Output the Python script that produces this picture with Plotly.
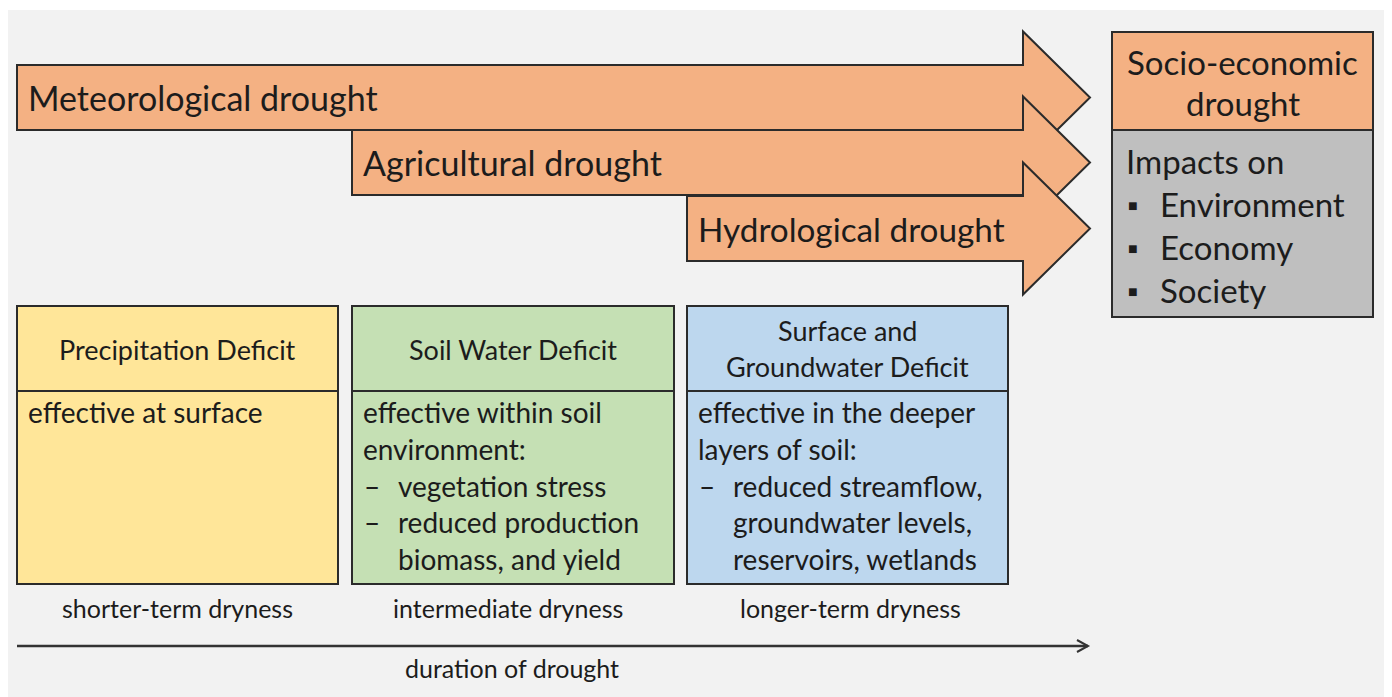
import plotly.graph_objects as go

W, H = 1392, 697
PAGE_MARGIN = 8  # default body margin of the written page
FONT = "Lato"
INK = "#1c1c1c"
EDGE = "#2b2b2b"

# ---- content ----
drought_types = ["Meteorological drought", "Agricultural drought", "Hydrological drought"]
arrow_left = [17, 352, 687]
arrow_body_top = [65, 130, 196]
arrow_body_h = 65
head_x0, head_tip = 1023, 1090
head_half = 66

socio_title = ["Socio-economic", "drought"]
impacts_title = "Impacts on"
impacts = ["Environment", "Economy", "Society"]

box_titles = [["Precipitation Deficit"], ["Soil Water Deficit"], ["Surface and", "Groundwater Deficit"]]
box_bodies = [
    [("", "effective at surface")],
    [("", "effective within soil"), ("", "environment:"), ("–", "vegetation stress"),
     ("–", "reduced production"), (" ", "biomass, and yield")],
    [("", "effective in the deeper"), ("", "layers of soil:"), ("–", "reduced streamflow,"),
     (" ", "groundwater levels,"), (" ", "reservoirs, wetlands")],
]
box_fill = ["#ffe699", "#c5e0b4", "#bdd7ee"]
box_x = [(17, 338), (352, 674), (687, 1008)]
box_top, box_div, box_bot = 306, 391, 584
dryness = ["shorter-term dryness", "intermediate dryness", "longer-term dryness"]
dryness_x = [177, 508, 850]
axis_label = "duration of drought"

fig = go.Figure()
fig.add_trace(go.Scatter(x=[PAGE_MARGIN, W], y=[PAGE_MARGIN, H], mode="markers",
                         marker=dict(opacity=0), hoverinfo="skip", showlegend=False))

shapes = []
annotations = []

def ann(x, y, text, size, anchor="left", color=INK):
    annotations.append(dict(x=x, y=y, xref="x", yref="y", text=text, showarrow=False,
                            xanchor=anchor, yanchor="middle",
                            font=dict(family=FONT, size=size, color=color)))

# thin white strip at top like the reference
shapes.append(dict(type="rect", x0=0, x1=W + 20, y0=0, y1=10, xref="x", yref="y",
                   fillcolor="#ffffff", line=dict(width=0), layer="below"))

# big arrows
for i, name in enumerate(drought_types):
    t = arrow_body_top[i]
    b = t + arrow_body_h
    c = (t + b) / 2
    l = arrow_left[i]
    path = (f"M {l} {t} L {head_x0} {t} L {head_x0} {c - head_half} L {head_tip} {c} "
            f"L {head_x0} {c + head_half} L {head_x0} {b} L {l} {b} Z")
    shapes.append(dict(type="path", path=path, xref="x", yref="y", fillcolor="#f4b183",
                       line=dict(color=EDGE, width=2)))
    ann(l + 9, c, name, 34 if i < 2 else 33.3)

# socio-economic box
sx0, sx1, st, sd, sb = 1112, 1373, 32, 130, 317
shapes.append(dict(type="rect", x0=sx0, x1=sx1, y0=st, y1=sd, xref="x", yref="y",
                   fillcolor="#f4b183", line=dict(color=EDGE, width=2)))
shapes.append(dict(type="rect", x0=sx0, x1=sx1, y0=sd, y1=sb, xref="x", yref="y",
                   fillcolor="#bfbfbf", line=dict(color=EDGE, width=2)))
ann((sx0 + sx1) / 2, 62, socio_title[0], 33, "center")
ann((sx0 + sx1) / 2, 103, socio_title[1], 33, "center")
ann(1124, 161, impacts_title, 33)
for j, item in enumerate(impacts):
    y = 204 + j * 43
    ann(1133, y, "■", 16, "center")
    ann(1158, y, item, 33)

# bottom boxes
for i in range(3):
    x0, x1 = box_x[i]
    shapes.append(dict(type="rect", x0=x0, x1=x1, y0=box_top, y1=box_div, xref="x", yref="y",
                       fillcolor=box_fill[i], line=dict(color=EDGE, width=2)))
    shapes.append(dict(type="rect", x0=x0, x1=x1, y0=box_div, y1=box_bot, xref="x", yref="y",
                       fillcolor=box_fill[i], line=dict(color=EDGE, width=2)))
    titles = box_titles[i]
    cx = (x0 + x1) / 2
    if len(titles) == 1:
        ann(cx, 349, titles[0], 27, "center")
    else:
        ann(cx, 330, titles[0], 27, "center")
        ann(cx, 366, titles[1], 27, "center")
    for k, (bullet, line) in enumerate(box_bodies[i]):
        y = 412 + k * 36.8
        if bullet == "":
            ann(x0 + 9, y, line, 28)
        else:
            if bullet.strip():
                ann(x0 + 10, y, bullet, 28)
            ann(x0 + 44, y, line, 28)
    ann(dryness_x[i], 608, dryness[i], 25, "center")

# duration axis arrow
shapes.append(dict(type="line", x0=17, x1=1088, y0=646, y1=646, xref="x", yref="y",
                   line=dict(color="#333333", width=2.5)))
shapes.append(dict(type="path", path="M 1077 640 L 1088 646 L 1077 652", xref="x", yref="y",
                   line=dict(color="#333333", width=2)))
ann(512, 668, axis_label, 25, "center")

fig.update_layout(
    width=W, height=H, margin=dict(l=0, r=0, t=0, b=0),
    paper_bgcolor="#f2f2f2", plot_bgcolor="#f2f2f2",
    xaxis=dict(range=[PAGE_MARGIN, W + PAGE_MARGIN], visible=False, fixedrange=True),
    yaxis=dict(range=[H + PAGE_MARGIN, PAGE_MARGIN], visible=False, fixedrange=True),
    shapes=shapes, annotations=annotations, showlegend=False,
)
fig.write_html("out.html")
